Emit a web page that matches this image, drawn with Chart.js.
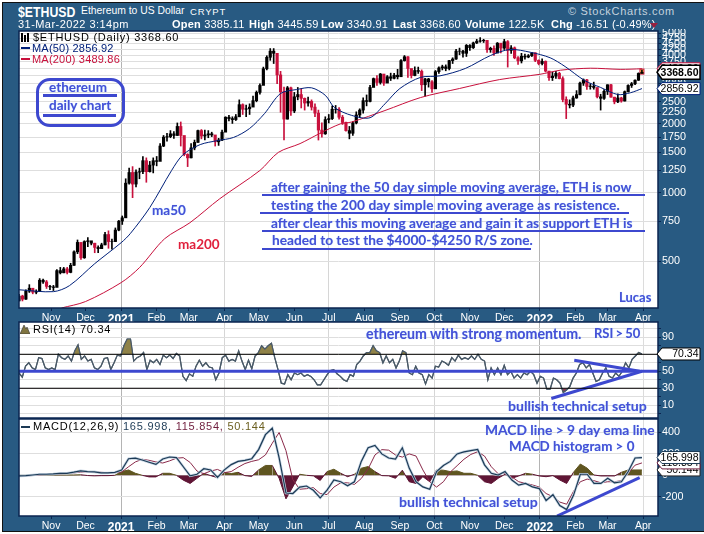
<!DOCTYPE html>
<html>
<head>
<meta charset="utf-8">
<title>$ETHUSD</title>
<script src="https://cdn.jsdelivr.net/npm/chart.js@4"></script>
<style>
html,body{margin:0;padding:0;background:#fff;}
#frame{position:absolute;left:2px;top:2px;width:702px;height:528px;background:#285a82;border-top:1px solid #111;border-left:1px solid #111;border-bottom:1px solid #111;box-sizing:content-box;}
#page{position:absolute;left:0;top:0;width:704px;height:534px;overflow:hidden;font-family:"Liberation Sans",sans-serif;}
canvas{position:absolute;left:0;}
.t{position:absolute;white-space:nowrap;line-height:1;}
.hd{color:#fff;font-size:11px;letter-spacing:.2px;}
.hd b{font-weight:bold;}
.lg{color:#000;font-size:11px;letter-spacing:.75px;}
.note{color:#4750d6;font-family:Lato,sans-serif;font-weight:700;text-shadow:0 0 1px #9fd8ff;}
.rule{position:absolute;background:#3d48cf;height:1.5px;}
</style>
</head>
<body>
<div id="page">
<div id="frame"></div>
<canvas id="price_chart" width="704" height="294" style="top:29px"></canvas>
<canvas id="rsi_chart" width="704" height="99" style="top:320px"></canvas>
<canvas id="macd_chart" width="704" height="114" style="top:417px"></canvas>

<div class="t" style="left:18px;top:4px;color:#fff;font-size:15px;font-weight:bold;transform:scaleX(.82);transform-origin:left;">$ETHUSD</div>
<div class="t" style="left:81px;top:5px;color:#fff;font-size:11.5px;transform:scaleX(.9);transform-origin:left;">Ethereum to US Dollar</div>
<div class="t" style="left:190px;top:7px;color:#fff;font-size:9.5px;letter-spacing:.8px;">CRYPT</div>
<div class="t" style="left:568px;top:6px;color:#c4d2de;font-size:11px;letter-spacing:.7px;">© StockCharts.com</div>
<div class="t hd" style="left:18px;top:19px;letter-spacing:.45px;">31-Mar-2022 3:14pm</div>
<div class="t hd" style="left:172px;top:19px;"><b>Open</b> 3385.11</div>
<div class="t hd" style="left:249px;top:19px;"><b>High</b> 3445.59</div>
<div class="t hd" style="left:321px;top:19px;"><b>Low</b> 3340.91</div>
<div class="t hd" style="left:393px;top:19px;"><b>Last</b> 3368.60</div>
<div class="t hd" style="left:465px;top:19px;"><b>Volume</b> 122.5K</div>
<div class="t hd" style="left:551px;top:19px;"><b>Chg</b> -16.51 (-0.49%)</div>
<div class="t" style="left:650px;top:23px;width:0;height:0;border-left:4px solid transparent;border-right:4px solid transparent;border-top:5px solid #98203f;"></div>

<svg class="t" style="left:20px;top:33px" width="11" height="9"><path d="M2 0v9M5 2v7M8 0v9" stroke="#000" stroke-width="2"/></svg>
<div class="t lg" style="left:33px;top:32px;">$ETHUSD (Daily) 3368.60</div>
<div class="t" style="left:21px;top:47px;width:9px;height:2px;background:#00207a;"></div>
<div class="t lg" style="left:32px;top:43px;color:#00207a;letter-spacing:.2px;">MA(50) 2856.92</div>
<div class="t" style="left:21px;top:58px;width:9px;height:2px;background:#c8103c;"></div>
<div class="t lg" style="left:32px;top:54px;color:#c8103c;letter-spacing:.2px;">MA(200) 3489.86</div>

<div class="t" style="left:36px;top:78px;width:83px;height:43px;border:3px solid #3d48cf;border-radius:14px;"></div>
<div class="t note" style="left:49px;top:81px;font-size:13.5px;">ethereum</div>
<div class="rule" style="left:43px;top:94px;width:74px;height:3px;"></div>
<div class="t note" style="left:49px;top:99px;font-size:13.5px;">daily chart</div>
<div class="rule" style="left:43px;top:114px;width:73px;height:3px;"></div>

<div class="t note" style="left:271px;top:180px;font-size:13.7px;">after gaining the 50 day simple moving average, ETH is now</div>
<div class="rule" style="left:262px;top:194px;width:383px;"></div>
<div class="t note" style="left:271px;top:198px;font-size:13.7px;letter-spacing:.1px;">testing the 200 day simple moving average as resistence.</div>
<div class="rule" style="left:260px;top:212px;width:369px;"></div>
<div class="t note" style="left:271px;top:216px;font-size:13.7px;">after clear this moving average and gain it as support ETH is</div>
<div class="rule" style="left:262px;top:230px;width:383px;"></div>
<div class="t note" style="left:272px;top:233px;font-size:13.7px;">headed to test the $4000-$4250 R/S zone.</div>
<div class="rule" style="left:262px;top:248px;width:269px;"></div>
<div class="t note" style="left:152px;top:204px;font-size:13.5px;">ma50</div>
<div class="t note" style="left:178px;top:238px;font-size:13.5px;color:#e0203c;text-shadow:none;">ma200</div>
<div class="t note" style="left:619px;top:291px;font-size:13px;">Lucas</div>

<svg class="t" style="left:20px;top:324px" width="10" height="10"><path d="M0 10L4 1L6 5L7 3L10 10Z" fill="#7f7440" stroke="#333" stroke-width=".6"/></svg>
<div class="t lg" style="left:33px;top:324px;">RSI(14) 70.34</div>
<div class="t note" style="left:366px;top:327px;font-size:14.2px;">ethereum with strong momentum.</div>
<div class="t note" style="left:594px;top:327px;font-size:13px;word-spacing:-1px;">RSI &gt; 50</div>
<div class="t note" style="left:508px;top:399px;font-size:14.1px;">bullish technical setup</div>

<div class="t" style="left:21px;top:426px;width:9px;height:2px;background:#1c3a55;"></div>
<div class="t lg" style="left:33px;top:421px;">MACD(12,26,9) <span style="color:#1c3a55">165.998,</span> <span style="color:#6e1c3c">115.854,</span> <span style="color:#6b5f20">50.144</span></div>
<div class="t note" style="left:485px;top:423px;font-size:13.8px;">MACD line &gt; 9 day ema line</div>
<div class="t note" style="left:509px;top:440px;font-size:13.4px;">MACD histogram &gt; 0</div>
<div class="t note" style="left:399px;top:495px;font-size:14.1px;">bullish technical setup</div>
</div>

<script>
// day 0 = 4 Oct 2020, one bar every 3 days, last bar = 31 Mar 2022
const lastDay = 543;
const closes = [
352,341,370,381,366,369,413,406,388,386,
384,455,445,463,447,480,550,605,518,610,
615,600,575,568,590,655,610,610,685,750,
775,1100,1225,1090,1230,1235,1380,1235,1320,1380,
1370,1600,1750,1760,1810,1780,1950,1780,1470,1420,
1570,1660,1870,1770,1790,1810,1790,1670,1700,1840,
2140,2110,2090,2150,2430,2320,2330,2370,2530,2750,
2950,3490,3920,4170,4080,3280,2770,2100,2880,2280,
2630,2690,2590,2470,2510,2370,2230,1880,1810,2090,
2110,2320,2320,2140,2030,1870,1820,2020,2190,2300,
2530,2510,2890,3160,3040,3310,3020,3220,3170,3270,
3220,3790,3940,3500,3260,3430,3400,2970,3150,3060,
2850,3390,3520,3560,3500,3790,3850,4170,4170,4080,
4420,4320,4530,4610,4630,4650,4230,4290,4090,4520,
4300,4590,4200,4310,3900,3780,3960,3930,3980,4100,
3800,3680,3760,3410,3190,3240,3330,3160,2560,2440,
2420,2600,2690,3020,3120,2920,2930,2890,2630,2590,
2780,2970,2620,2500,2600,2520,2770,2950,3000,3110,
3330,3368.6];
const highs = [
358,355,375,395,372,375,420,418,412,392,
392,460,470,470,470,490,555,620,600,615,
635,610,600,585,600,670,680,625,700,755,
790,1150,1280,1300,1260,1280,1440,1420,1370,1420,
1440,1640,1780,1820,1870,1850,2020,2040,1700,1480,
1640,1700,1880,1890,1880,1870,1840,1740,1730,1880,
2150,2180,2150,2200,2550,2450,2420,2450,2650,2790,
3000,3550,3980,4280,4280,3600,3400,2900,2920,2900,
2750,2890,2860,2600,2620,2550,2450,2300,2020,2150,
2200,2400,2410,2360,2180,2040,1950,2050,2260,2330,
2600,2680,2950,3180,3260,3330,3300,3260,3340,3330,
3470,3830,3990,3950,3450,3560,3550,3450,3170,3170,
3100,3430,3560,3620,3630,3800,3900,4250,4300,4200,
4460,4460,4570,4700,4780,4700,4650,4340,4400,4550,
4420,4700,4640,4410,4350,3950,4080,4050,4030,4120,
4100,3820,3860,3780,3290,3370,3400,3370,3220,2630,
2550,2650,2800,3050,3150,3140,3000,3050,2780,2700,
2830,2970,2980,2620,2710,2620,2790,2970,3040,3120,
3350,3445.59];
const lows = [
335,335,340,365,360,360,368,400,380,375,
372,395,440,445,440,445,480,540,510,515,
580,590,545,545,575,590,570,565,610,680,
725,970,1090,950,1060,1150,1210,1110,1230,1220,
1310,1480,1590,1680,1740,1730,1780,1600,1450,1300,
1420,1540,1660,1720,1700,1740,1760,1600,1610,1690,
1860,2060,2010,2070,2150,2200,2150,2200,2380,2500,
2700,3000,3450,3800,3680,3000,2250,1700,2100,2180,
2240,2550,2350,2300,2390,2300,2150,1700,1750,1800,
2020,2090,2230,2100,1990,1860,1720,1780,2000,2130,
2230,2400,2500,3000,2950,2990,2950,3050,3100,3150,
3150,3250,3770,3200,3180,3250,3330,2800,2650,2900,
2750,2880,3330,3450,3420,3450,3680,3840,4020,3920,
3950,4200,4280,4500,4560,4550,4120,4120,3990,4200,
4100,4240,3550,4080,3860,3650,3700,3850,3900,3950,
3750,3630,3630,3380,3100,3100,3170,3150,2500,2110,
2350,2380,2590,2680,2950,2830,2840,2840,2600,2300,
2560,2690,2620,2450,2480,2490,2520,2760,2890,2970,
3100,3340.91];

const ma50Days = [0,30,44,66,89,97,114,133,143,158,173,187,201,214,228,242,255,267,275,290,306,319,332,350,367,389,411,428,446,463,476,493,507,522,533,543];
const ma50 = [375,368,391,488,603,661,860,1250,1467,1624,1690,1745,1910,2220,2720,2830,2880,2670,2360,2180,2130,2450,2860,3200,3250,3500,3990,4240,4120,3900,3570,3100,2890,2690,2740,2856.92];
const ma200Days = [37,58,89,105,127,149,175,210,226,245,262,280,290,319,350,384,419,454,472,498,524,543];
const ma200 = [312,333,403,469,628,738,940,1250,1500,1640,1815,2000,2040,2290,2610,2860,3130,3300,3440,3510,3470,3489.86];

const rsi = [
48,43,56,60,54,52,66,65,54,52,
54,52,70,66,64,68,62,74,81,64,
68,62,64,54,52,56,65,66,52,60,
69,68,80,88,88,62,66,68,72,52,
63,60,64,58,69,66,69,65,71,68,
44,39,47,44,56,63,56,60,55,54,
40,48,66,69,62,64,62,74,62,52,
63,53,68,72,80,76,80,83,66,52,
36,35,46,40,48,46,48,44,46,44,
40,34,34,40,46,51,52,47,44,40,
38,46,
44,58,62,68,72,72,80,74,72,60,
68,60,64,54,62,74,72,48,46,56,
48,46,35,46,42,56,55,62,60,57,
66,62,69,64,66,64,68,64,70,64,
62,40,54,46,54,46,57,46,50,42,
46,42,48,46,50,46,36,44,42,29,
29,42,40,36,25,28,32,42,48,58,
60,54,58,48,38,40,48,54,44,42,
48,44,50,60,54,64,68,72,70.34];

const macdLine = [
-6,-3,3,10,10,13,19,19,29,42,
35,32,22,22,27,50,155,160,143,122,
102,152,171,165,80,-5,10,62,50,-20,
51,100,130,140,155,240,380,440,162,-165,
-170,-110,-100,-140,-210,-139,-44,-60,-98,-60,
130,257,279,200,162,152,257,67,-60,-108,
-130,35,92,130,200,219,231,241,98,19,
3,35,-44,-92,-76,-108,-124,-235,-181,-282,
-320,-187,10,10,-76,-76,-28,-70,-60,35,
162,165.998];
const macdSignal = [
-6,-5,-2,3,8,10,14,17,22,30,
34,33,28,24,24,30,80,125,150,140,
125,115,135,160,165,120,40,15,40,55,
25,35,75,110,130,145,190,300,400,230,
-40,-130,-125,-115,-170,-180,-110,-70,-70,-85,
-30,60,190,240,235,190,170,200,180,50,
-60,-110,-60,30,90,150,195,220,180,80,
15,20,-15,-60,-75,-90,-110,-170,-200,-250,
-270,-150,-60,-35,-50,-70,-60,-60,-50,20,
95,115.854];
const macdHist = [
0,0,0,5,3,3,3,3,3,5,
-2,-5,-3,-3,0,35,50,19,0,-15,
-15,19,19,0,-45,-76,-28,19,-3,-22,
28,16,28,-3,-10,50,92,92,-28,-220,
-108,10,0,-5,-48,35,57,19,-13,10,
66,82,35,-3,-5,-28,48,-60,-76,-13,
-60,50,48,35,41,19,19,0,-60,-76,
-28,10,-28,-6,19,10,-6,-13,-3,-44,
-76,28,105,67,3,-6,-6,-6,28,50,
50,50.144];

const monthDays = [28,58,89,120,148,179,209,240,270,301,332,362,393,423,454,485,513,544];
const monthLabels = ["Nov","Dec","2021","Feb","Mar","Apr","May","Jun","Jul","Aug","Sep","Oct","Nov","Dec","2022","Feb","Mar","Apr"];
const gridMonths = ["2021","Apr","Jul","Oct","2022"];

const priceTicks = [5000,4750,4500,4250,4000,3750,3500,3250,3000,2750,2500,2250,2000,1750,1500,1250,1000,750,500];
const rsiTicks = [100,90,80,70,60,50,40,30,20,10,0];
const rsiLabels = [90,50,30,10];
const macdTicks = [400,200,0,-200];

// hand drawn trend lines, [day, value]
const rsiTrendUpper = [[484,63],[541,50]];
const rsiTrendLower = [[464,18],[543,50]];
const macdTrend = [[469,-380],[541,-22]];

const navy = "#0a2450";
const noteBlue = "#3d48cf";

function evenly(values){
    return values.map(function(v,i){ return {x:i*lastDay/(values.length-1), y:v}; });
}
function pairs(days,values){
    return values.map(function(v,i){ return {x:days[i], y:v}; });
}
function label_of(day){
    return monthLabels[monthDays.indexOf(day)];
}
// tick labels must not shrink the plot area
function no_padding(s){
    s.paddingTop = 0; s.paddingBottom = 0; s.paddingLeft = 0; s.paddingRight = 0;
}

function x_axis(show_labels){
    return {
        type:"linear", min:0, max:557, offset:false,
        afterBuildTicks:function(s){ s.ticks = monthDays.map(function(d){ return {value:d}; }); },
        afterFit:function(s){ s.height = show_labels ? 15 : 1; no_padding(s); },
        grid:{
            offset:false, drawTicks:show_labels, tickLength:3, tickColor:navy,
            color:function(c){
                if(!c.tick) return "transparent";
                let name = label_of(c.tick.value);
                if(name=="2021" || name=="2022") return "#b4b4b4";
                if(name=="Apr" && c.tick.value>500) return "#dcdcdc";
                return gridMonths.indexOf(name)>=0 ? "#d6d6d6" : "transparent";
            }
        },
        border:{display:false},
        ticks:{
            display:show_labels, autoSkip:false, maxRotation:0, padding:1, color:"#fff",
            font:function(c){
                let name = c.tick ? label_of(c.tick.value) : "";
                return (name=="2021"||name=="2022") ? {family:"Liberation Sans",size:12,weight:"bold"} : {family:"Liberation Sans",size:10.5};
            },
            callback:function(v){ return label_of(v); }
        }
    };
}

function y_axis(type,min,max,ticks,labels){
    return {
        type:type, position:"right", min:min, max:max,
        afterBuildTicks:function(s){ s.ticks = ticks.map(function(v){ return {value:v}; }); },
        afterFit:function(s){ s.width = 46; no_padding(s); },
        grid:{color:"#dedede", tickLength:3, tickColor:navy},
        border:{display:false},
        ticks:{
            autoSkip:false, maxRotation:0, padding:1, color:"#fff",
            font:{family:"Liberation Sans",size:10.8},
            callback:function(v){ return labels.indexOf(v)>=0 ? String(v) : ""; }
        }
    };
}

// white plot background and border
const plotFrame = {
    id:"plotFrame",
    beforeDraw:function(chart){
        let a = chart.chartArea, c = chart.ctx;
        c.save();
        c.fillStyle = "#fff";
        c.fillRect(a.left,a.top,a.width,a.height);
        c.restore();
    },
    afterDraw:function(chart){
        let a = chart.chartArea, c = chart.ctx;
        c.save();
        c.strokeStyle = navy;
        c.lineWidth = 1.5;
        c.strokeRect(a.left,a.top,a.width,a.height);
        c.restore();
    }
};

// value flags at the right side of the plot
function value_tags(tags){
    return {
        id:"valueTags",
        afterDraw:function(chart){
            let c = chart.ctx, s = chart.scales.y, left = chart.chartArea.right-1, right = 700;
            c.save();
            tags.forEach(function(t){
                let y = s.getPixelForValue(t.value), h = t.bold ? 7 : 6;
                c.beginPath();
                c.moveTo(left,y);
                c.lineTo(left+5,y-h);
                c.lineTo(right,y-h);
                c.lineTo(right,y+h);
                c.lineTo(left+5,y+h);
                c.closePath();
                c.fillStyle = "#fff";
                c.fill();
                c.strokeStyle = t.color;
                c.lineWidth = t.bold ? 1.5 : 1;
                c.stroke();
                c.fillStyle = "#000";
                c.font = (t.bold ? "bold 10.5px" : "10.5px")+" 'Liberation Sans'";
                c.textAlign = "right";
                c.textBaseline = "middle";
                c.fillText(t.text,right-1.5,y+.5);
            });
            c.restore();
        }
    };
}

// yellow marker behind the last bar
const lastBarMark = {
    id:"lastBarMark",
    beforeDatasetsDraw:function(chart){
        let c = chart.ctx, sx = chart.scales.x, sy = chart.scales.y;
        let x = sx.getPixelForValue(lastDay), top = sy.getPixelForValue(highs[highs.length-1]), bot = sy.getPixelForValue(lows[lows.length-1]);
        c.save();
        c.fillStyle = "#ffe14d";
        c.fillRect(x-2,top-1,4,bot-top+2);
        c.strokeStyle = "#d01040";
        c.lineWidth = 1;
        c.strokeRect(x-2,top-1,4,bot-top+2);
        c.restore();
    }
};

function draw_price(){
    let step = lastDay/(closes.length-1);
    let wicks = closes.map(function(v,i){ return {x:i*step, y:[lows[i],highs[i]]}; });
    let bodies = closes.map(function(v,i){ return {x:i*step, y:[i==0?lows[0]:closes[i-1],v]}; });
    //small pullbacks stay black, the reference is red only on clear drops
    let colors = closes.map(function(v,i){ return (i==0 || v>=closes[i-1]*0.97) ? "#000" : "#c8103c"; });

    new Chart(document.getElementById("price_chart"),{
        type:"line",
        data:{datasets:[
            {label:"MA50",data:pairs(ma50Days,ma50),borderColor:"#00207a",borderWidth:1,pointRadius:0,tension:.3,order:1},
            {label:"MA200",data:pairs(ma200Days,ma200),borderColor:"#c8103c",borderWidth:1,pointRadius:0,tension:.3,order:1},
            {type:"bar",label:"body",data:bodies,backgroundColor:colors,barThickness:2.5,grouped:false,order:2},
            {type:"bar",label:"range",data:wicks,backgroundColor:colors,barThickness:1,grouped:false,order:3}
        ]},
        options:{
            responsive:false, animation:false, events:[],
            layout:{padding:{left:19,top:2,right:0,bottom:0}},
            plugins:{legend:{display:false},tooltip:{enabled:false}},
            scales:{x:x_axis(true), y:y_axis("logarithmic",312,5110,priceTicks,priceTicks)}
        },
        plugins:[plotFrame,lastBarMark,value_tags([
            {value:3489.86,text:"3489.86",color:"#c8103c"},
            {value:2856.92,text:"2856.92",color:"#00207a"},
            {value:3368.6,text:"3368.60",color:"#000",bold:true}
        ])]
    });
}

function draw_rsi(){
    let line = evenly(rsi);
    let flat = function(v){ return [{x:0,y:v},{x:557,y:v}]; };
    let band = function(v){ return {data:flat(v),borderColor:"#000",borderWidth:1,pointRadius:0}; };
    let trend = function(t,w){ return {data:t.map(function(p){ return {x:p[0],y:p[1]}; }),borderColor:noteBlue,borderWidth:w,pointRadius:0,order:0}; };

    new Chart(document.getElementById("rsi_chart"),{
        type:"line",
        data:{datasets:[
            band(70), band(30),
            {data:line,borderColor:"#4a5a68",borderWidth:1.2,pointRadius:0,fill:{target:{value:70},above:"#8f8248",below:"transparent"},order:2},
            {data:line,borderColor:"#4a5a68",borderWidth:1.2,pointRadius:0,fill:{target:{value:30},above:"transparent",below:"#8a3a55"},order:2},
            {data:flat(50),borderColor:noteBlue,borderWidth:3,pointRadius:0,order:0},
            trend(rsiTrendUpper,3), trend(rsiTrendLower,3)
        ]},
        options:{
            responsive:false, animation:false, events:[],
            layout:{padding:{left:19,top:2,right:0,bottom:0}},
            plugins:{legend:{display:false},tooltip:{enabled:false}},
            scales:{x:x_axis(false), y:y_axis("linear",-5,108,rsiTicks,rsiLabels)}
        },
        plugins:[plotFrame,value_tags([{value:70.34,text:"70.34",color:"#000"}])]
    });
}

function draw_macd(){
    new Chart(document.getElementById("macd_chart"),{
        type:"line",
        data:{datasets:[
            {data:evenly(macdHist),borderColor:"#5f5520",borderWidth:1,pointRadius:0,
             fill:{target:"origin",above:"#5f5520",below:"#5f1535"},
             segment:{borderColor:function(c){ return (c.p0.parsed.y<0 || c.p1.parsed.y<0) ? "#5f1535" : "#5f5520"; }},order:4},
            {data:evenly(macdSignal),borderColor:"#8a2a4a",borderWidth:1,pointRadius:0,order:3},
            {data:evenly(macdLine),borderColor:"#c4d3e2",borderWidth:2.6,pointRadius:0,order:2},
            {data:evenly(macdLine),borderColor:"#1c3a55",borderWidth:1.2,pointRadius:0,order:1},
            {data:macdTrend.map(function(p){ return {x:p[0],y:p[1]}; }),borderColor:noteBlue,borderWidth:3,pointRadius:0,order:0}
        ]},
        options:{
            responsive:false, animation:false, events:[],
            layout:{padding:{left:19,top:2,right:0,bottom:0}},
            plugins:{legend:{display:false},tooltip:{enabled:false}},
            scales:{x:x_axis(true), y:y_axis("linear",-380,526,macdTicks,macdTicks)}
        },
        plugins:[plotFrame,value_tags([
            {value:50.144,text:"50.144",color:"#222"},
            {value:115.854,text:"115.854",color:"#6e1c3c"},
            {value:165.998,text:"165.998",color:"#1c3a55"}
        ])]
    });
}

draw_macd();
draw_rsi();
draw_price();
</script>
</body>
</html>
